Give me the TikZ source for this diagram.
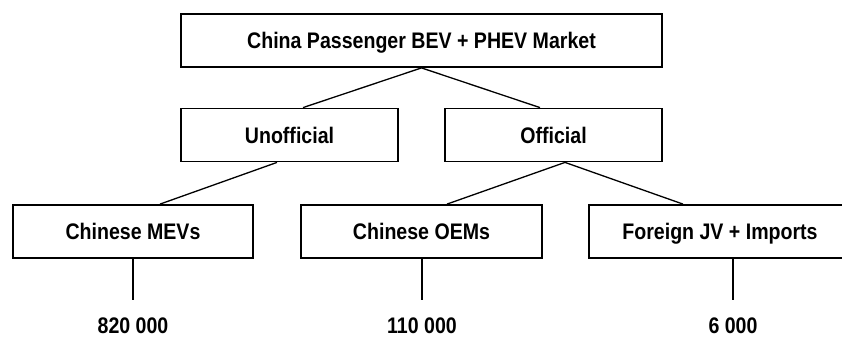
\documentclass[tikz,border=0pt]{standalone}
\usepackage{fontspec}
\setmainfont{Liberation Sans}[FakeStretch=0.87]
\usepackage{tikz}

\begin{document}
\begin{tikzpicture}[x=1pt,y=-1pt,
    box/.style={draw,line width=1.8pt,minimum height=53pt,inner sep=0pt,
                text height=16pt,text depth=0pt,
                font=\bfseries\fontsize{22.5}{26}\selectfont},
    num/.style={inner sep=0pt,text height=16pt,text depth=0pt,
                font=\bfseries\fontsize{22.5}{26}\selectfont},
    link/.style={line width=1.3pt}]
\fill[white] (0,0) rectangle (842,338);
\useasboundingbox (0,0) rectangle (842,338);

\node[box,minimum width=481pt] (market) at (421.5,40.5) {China Passenger BEV + PHEV Market};

\node[box,minimum width=217pt] (unoff) at (289.5,135) {Unofficial};
\node[box,minimum width=217pt] (off) at (553.5,135) {Official};

\node[box,minimum width=240pt] (mev) at (133,231.5) {Chinese MEVs};
\node[box,minimum width=241pt] (oem) at (421.5,231.5) {Chinese OEMs};
\node[box,minimum width=262pt] (foreign) at (720,231.5) {Foreign JV + Imports};

\node[num] (v1) at (133,325) {820 000};
\node[num] (v2) at (422,325) {110 000};
\node[num] (v3) at (733,325) {6 000};

\draw[link] (market.south) -- ([xshift=13.5pt]unoff.north);
\draw[link] (market.south) -- ([xshift=-13.5pt]off.north);
\draw[link] ([xshift=-12.5pt]unoff.south) -- ([xshift=27pt]mev.north);
\draw[link] ([xshift=11.5pt]off.south) -- ([xshift=25.5pt]oem.north);
\draw[link] ([xshift=11.5pt]off.south) -- ([xshift=-37pt]foreign.north);

\foreach \b/\v in {mev/v1,oem/v2,foreign/v3}
  \draw[link,shorten >=17pt] (\b.south -| \v.north) -- (\v.north);
\end{tikzpicture}
\end{document}
